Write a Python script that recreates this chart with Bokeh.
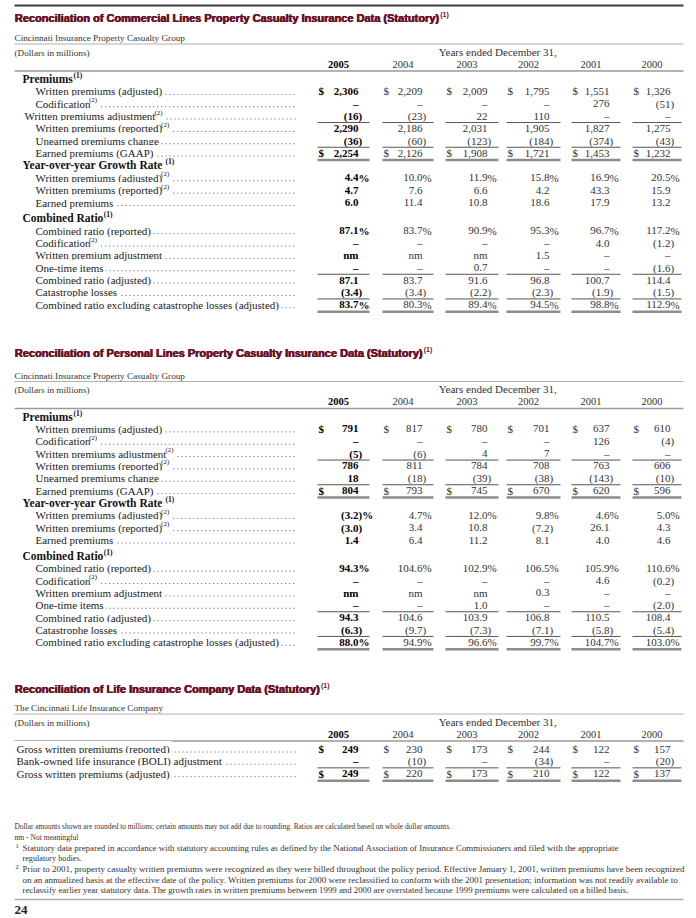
from bokeh.plotting import figure
from bokeh.models import Range1d
from bokeh.core.properties import value
from bokeh.embed import file_html
from bokeh.resources import INLINE

# ---------------- data ----------------
years = ["2005", "2004", "2003", "2002", "2001", "2000"]

titles = [
    "Reconciliation of Commercial Lines Property Casualty Insurance Data (Statutory)",
    "Reconciliation of Personal Lines Property Casualty Insurance Data (Statutory)",
    "Reconciliation of Life Insurance Company Data (Statutory)",
]
title_notes = ["(1)", "(1)", "(1)"]
subtitles = [
    "Cincinnati Insurance Property Casualty Group",
    "Cincinnati Insurance Property Casualty Group",
    "The Cincinnati Life Insurance Company",
]

pc_labels = [
    "Premiums", "Written premiums (adjusted)", "Codification",
    "Written premiums adjustment", "Written premiums (reported)",
    "Unearned premiums change", "Earned premiums (GAAP)",
    "Year-over-year Growth Rate", "Written premiums (adjusted)",
    "Written premiums (reported)", "Earned premiums",
    "Combined Ratio", "Combined ratio (reported)", "Codification",
    "Written premium adjustment", "One-time items", "Combined ratio (adjusted)",
    "Catastrophe losses", "Combined ratio excluding catastrophe losses (adjusted)",
]
pc_notes = ["(1)", "", "(2)", "(2)", "(2)", "", "", "(1)", "(2)", "(2)", "", "(1)", "", "(2)", "", "", "", "", ""]
com_kinds = ["h", "r", "r", "r0", "r", "r", "r", "h", "r", "r", "r", "h", "r", "r", "r", "r", "r", "r", "r"]
per_kinds = ["h", "r", "r", "r", "r", "r", "r", "h", "r", "r", "r", "h", "r", "r", "r", "r", "r", "r", "r"]
pc_rules = ["", "", "", "u", "", "u", "uu", "", "", "", "", "", "", "", "", "u", "", "u", "uu"]

com_2005 = ["", "$2,306", "\u2013", "(16)", "2,290", "(36)", "$2,254", "", "4.4%", "4.7", "6.0", "", "87.1%", "\u2013", "nm", "\u2013", "87.1", "(3.4)", "83.7%"]
com_2004 = ["", "$2,209", "\u2013", "(23)", "2,186", "(60)", "$2,126", "", "10.0%", "7.6", "11.4", "", "83.7%", "\u2013", "nm", "\u2013", "83.7", "(3.4)", "80.3%"]
com_2003 = ["", "$2,009", "\u2013", "22", "2,031", "(123)", "$1,908", "", "11.9%", "6.6", "10.8", "", "90.9%", "\u2013", "nm", "0.7", "91.6", "(2.2)", "89.4%"]
com_2002 = ["", "$1,795", "\u2013", "110", "1,905", "(184)", "$1,721", "", "15.8%", "4.2", "18.6", "", "95.3%", "\u2013", "1.5", "\u2013", "96.8", "(2.3)", "94.5%"]
com_2001 = ["", "$1,551", "276", "\u2013", "1,827", "(374)", "$1,453", "", "16.9%", "43.3", "17.9", "", "96.7%", "4.0", "\u2013", "\u2013", "100.7", "(1.9)", "98.8%"]
com_2000 = ["", "$1,326", "(51)", "\u2013", "1,275", "(43)", "$1,232", "", "20.5%", "15.9", "13.2", "", "117.2%", "(1.2)", "\u2013", "(1.6)", "114.4", "(1.5)", "112.9%"]

per_2005 = ["", "$791", "\u2013", "(5)", "786", "18", "$804", "", "(3.2)%", "(3.0)", "1.4", "", "94.3%", "\u2013", "nm", "\u2013", "94.3", "(6.3)", "88.0 %"]
per_2004 = ["", "$817", "\u2013", "(6)", "811", "(18)", "$793", "", "4.7%", "3.4", "6.4", "", "104.6%", "\u2013", "nm", "\u2013", "104.6", "(9.7)", "94.9%"]
per_2003 = ["", "$780", "\u2013", "4", "784", "(39)", "$745", "", "12.0%", "10.8", "11.2", "", "102.9%", "\u2013", "nm", "1.0", "103.9", "(7.3)", "96.6%"]
per_2002 = ["", "$701", "\u2013", "7", "708", "(38)", "$670", "", "9.8%", "(7.2)", "8.1", "", "106.5%", "\u2013", "0.3", "\u2013", "106.8", "(7.1)", "99.7%"]
per_2001 = ["", "$637", "126", "\u2013", "763", "(143)", "$620", "", "4.6%", "26.1", "4.0", "", "105.9%", "4.6", "\u2013", "\u2013", "110.5", "(5.8)", "104.7%"]
per_2000 = ["", "$610", "(4)", "\u2013", "606", "(10)", "$596", "", "5.0%", "4.3", "4.6", "", "110.6%", "(0.2)", "\u2013", "(2.0)", "108.4", "(5.4)", "103.0%"]

life_labels = ["Gross written premiums (reported)", "Bank-owned life insurance (BOLI) adjustment",
               "Gross written premiums (adjusted)"]
life_notes = ["", "", ""]
life_kinds = ["l", "l", "l"]
life_rules = ["", "u", "uu"]
life_2005 = ["$249", "\u2013", "$249"]
life_2004 = ["$230", "(10)", "$220"]
life_2003 = ["$173", "\u2013", "$173"]
life_2002 = ["$244", "(34)", "$210"]
life_2001 = ["$122", "\u2013", "$122"]
life_2000 = ["$157", "(20)", "$137"]

footnote_marks = ["", "", "1", "", "2", "", ""]
footnotes = [
    "Dollar amounts shown are rounded to millions; certain amounts may not add due to rounding. Ratios are calculated based on whole dollar amounts.",
    "nm - Not meaningful",
    "Statutory data prepared in accordance with statutory accounting rules as defined by the National Association of Insurance Commissioners and filed with the appropriate",
    "regulatory bodies.",
    "Prior to 2001, property casualty written premiums were recognized as they were billed throughout the policy period. Effective January 1, 2001,  written premiums have been recognized",
    "on an annualized basis at the effective date of the policy. Written premiums for 2000 were reclassified to conform with the 2001 presentation; information was not readily available to",
    "reclassify earlier year statutory data. The growth rates in written premiums between 1999 and 2000 are overstated because 1999 premiums were calculated on a billed basis.",
]
page_number = "24"

# ---------------- font metrics (Times / Arial compatible, per 1000 em) ----------------
TIMES = dict(zip("ABCDEFGHIJKLMNOPQRSTUVWXYZ",
                 [722, 667, 667, 722, 611, 556, 722, 722, 333, 389, 722, 611, 889, 722, 722, 556, 722, 667, 556, 611, 722, 722, 944, 722, 722, 611]))
TIMES.update(zip("abcdefghijklmnopqrstuvwxyz",
                 [444, 500, 444, 500, 444, 333, 500, 500, 278, 278, 500, 278, 778, 500, 500, 500, 500, 333, 389, 278, 500, 500, 722, 500, 500, 444]))
TIMES.update({" ": 250, "(": 333, ")": 333, "-": 333})
TIMESB = dict(TIMES)
TIMESB.update(zip("abcdefghijklmnopqrstuvwxyz",
                  [500, 556, 444, 556, 444, 333, 500, 556, 278, 333, 556, 278, 833, 556, 500, 556, 556, 444, 389, 333, 556, 500, 722, 500, 500, 444]))
TIMESB.update({"C": 722, "G": 778, "P": 611, "R": 722, "Y": 722})
ARIALB = dict(zip("abcdefghijklmnopqrstuvwxyz",
                  [556, 611, 556, 611, 556, 333, 611, 611, 278, 278, 556, 278, 889, 611, 611, 611, 611, 389, 556, 333, 611, 556, 778, 556, 556, 500]))
ARIALB.update({"R": 722, "C": 722, "L": 611, "P": 667, "I": 278, "D": 722, "S": 667, " ": 278, "(": 333, ")": 333})

def text_width(s, table, size):
    return sum(table.get(c, 500) for c in s) / 1000.0 * size

# ---------------- layout ----------------
W, H = 696, 918
p = figure(width=W, height=H, output_backend="svg", toolbar_location=None,
           x_range=Range1d(0, W), y_range=Range1d(H, 0),
           x_axis_location=None, y_axis_location=None, min_border=0)
p.xgrid.visible = False
p.ygrid.visible = False
p.outline_line_color = None
p.background_fill_color = "white"

SERIF = value("Liberation Serif")
SANS = value("Liberation Sans")
MAROON = "#6b1228"
LEFT, RIGHT = 14, 683
LEADER_END = 295
col_right = [358, 422, 487, 549, 609, 670]
col_dollar = [318, 383, 446, 507, 572, 633]
STEP = 12.35
TITLE_SIZE = 11.0
LABEL_SIZE = 11.0
HEAD_SIZE = 11.5
NOTE_SIZE = 7.0

sections = [
    dict(title_y=17, header_y=63.5, labels=pc_labels, notes=pc_notes, kinds=com_kinds, rules=pc_rules,
         cols=[com_2005, com_2004, com_2003, com_2002, com_2001, com_2000]),
    dict(title_y=352, header_y=401, labels=pc_labels, notes=pc_notes, kinds=per_kinds, rules=pc_rules,
         cols=[per_2005, per_2004, per_2003, per_2002, per_2001, per_2000]),
    dict(title_y=688, header_y=733.5, labels=life_labels, notes=life_notes, kinds=life_kinds, rules=life_rules,
         cols=[life_2005, life_2004, life_2003, life_2002, life_2001, life_2000]),
]

p.segment([LEFT], [5], [RIGHT], [5], line_color="#3a3a3a", line_width=2)

def split_value(v):
    dollar = v.startswith("$")
    if dollar:
        v = v[1:]
    i = len(v)
    while i > 0 and v[i - 1] in ")% ":
        i -= 1
    return dollar, v[:i], v[i:]

for si, s in enumerate(sections):
    hy = s["header_y"]
    ty = s["title_y"]
    for off in (0, 0.35, 0.7):
        p.text([LEFT + off], [ty], text=[titles[si]], text_font=SANS,
               text_font_style="bold", text_font_size=f"{TITLE_SIZE}px", text_color=MAROON,
               text_baseline="middle")
    tw = text_width(titles[si], ARIALB, TITLE_SIZE)
    p.text([LEFT + tw + 1.5], [ty - 3], text=[title_notes[si]], text_font=SANS,
           text_font_style="bold", text_font_size="7px", text_color=MAROON, text_baseline="middle")

    p.text([LEFT], [hy - 26], text=[subtitles[si]], text_font=SERIF,
           text_font_size="9.2px", text_color="#333333", text_baseline="middle")
    p.segment([LEFT], [hy - 20], [RIGHT], [hy - 20], line_color="#b0b0b0", line_width=1)
    p.text([LEFT], [hy - 11.5], text=["(Dollars in millions)"], text_font=SERIF,
           text_font_size="9.2px", text_color="#333333", text_baseline="middle")
    centers = [(a + b) / 2 for a, b in zip(col_dollar, col_right)]
    p.text([(centers[2] + centers[3]) / 2], [hy - 12.5], text=["Years ended December 31,"],
           text_font=SERIF, text_font_size="11px", text_align="center",
           text_baseline="middle", text_color="#333333")
    p.text(centers[:1], [hy], text=years[:1], text_font=SERIF, text_font_style="bold",
           text_font_size="10.5px", text_align="center", text_baseline="middle")
    p.text(centers[1:], [hy] * 5, text=years[1:], text_font=SERIF,
           text_font_size="10.5px", text_align="center", text_baseline="middle",
           text_color="#333333")
    p.segment([LEFT], [hy + 7], [RIGHT], [hy + 7], line_color="#9a9a9a", line_width=1.5)

    ys = []
    y = hy + 15
    for i, k in enumerate(s["kinds"]):
        if i > 0:
            y += STEP
            if k == "h" and s["labels"][i].startswith("Combined"):
                y += 3.5
        ys.append(y)

    lx, ly, lt, lead0 = [], [], [], []
    hx, hyy, ht = [], [], []
    nx, ny, nt, bx, by, bt = [], [], [], [], [], []
    for i, k in enumerate(s["kinds"]):
        lab = s["labels"][i]
        note = s["notes"][i]
        if k == "h":
            hx.append(22); hyy.append(ys[i]); ht.append(lab)
            if note:
                bx.append(22 + text_width(lab, TIMESB, HEAD_SIZE) + 0.5); by.append(ys[i] - 3.5); bt.append(note)
        else:
            x0 = {"r": 33, "r0": 22, "l": LEFT}[k]
            lx.append(x0); ly.append(ys[i]); lt.append(lab)
            if note:
                n0 = x0 + text_width(lab, TIMES, LABEL_SIZE) + 0.5
                nx.append(n0); ny.append(ys[i] - 3.5); nt.append(note)
                lead0.append(n0 + text_width(note, TIMES, NOTE_SIZE) + 4)
            else:
                lead0.append(x0)
    p.segment(lead0, [v + 3 for v in ly], [LEADER_END] * len(lx), [v + 3 for v in ly],
              line_color="#555555", line_width=1, line_dash="1 3")
    # labels (white background hides the leader dots under the text)
    p.text(lx, ly, text=lt, text_font=SERIF, text_font_size=f"{LABEL_SIZE}px", text_color="#222222",
           text_baseline="middle", background_fill_color="white", padding=2)
    if nx:
        p.text(nx, ny, text=nt, text_font=SERIF, text_font_size=f"{NOTE_SIZE}px", text_color="#222222",
               text_baseline="middle")
    if hx:
        p.text(hx, hyy, text=ht, text_font=SERIF, text_font_style="bold",
               text_font_size=f"{HEAD_SIZE}px", text_color="#111111", text_baseline="middle")
    if bx:
        p.text(bx, by, text=bt, text_font=SERIF, text_font_style="bold",
               text_font_size="7.5px", text_color="#111111", text_baseline="middle")

    for j, col in enumerate(s["cols"]):
        style = "bold" if j == 0 else "normal"
        color = "#000000" if j == 0 else "#333333"
        dx, dy, cx, cy, ct, sx, sy, st = [], [], [], [], [], [], [], []
        for i, v in enumerate(col):
            if not v:
                continue
            d, core, suf = split_value(v)
            if d:
                dx.append(col_dollar[j]); dy.append(ys[i])
            cx.append(col_right[j]); cy.append(ys[i]); ct.append(core)
            if suf:
                sx.append(col_right[j]); sy.append(ys[i]); st.append(suf)
        if dx:
            p.text(dx, dy, text=["$"] * len(dx), text_font=SERIF, text_font_style=style,
                   text_font_size="11px", text_color=color, text_baseline="middle")
        p.text(cx, cy, text=ct, text_font=SERIF, text_font_style=style, text_font_size="11px",
               text_color=color, text_baseline="middle", text_align="right")
        if sx:
            p.text(sx, sy, text=st, text_font=SERIF, text_font_style=style,
                   text_font_size="11px", text_color=color, text_baseline="middle")
        ux0, uy, dx0, ddy = [], [], [], []
        for i, r in enumerate(s["rules"]):
            if r == "u":
                ux0.append(col_dollar[j] - 1); uy.append(ys[i] + 6.5)
            elif r == "uu":
                dx0.append(col_dollar[j] - 1); ddy.append(ys[i] + 7)
        if ux0:
            p.segment(ux0, uy, [col_right[j] + 11] * len(ux0), uy, line_color="#555555", line_width=1)
        if dx0:
            p.segment(dx0, ddy, [col_right[j] + 11] * len(dx0), ddy, line_color="#8c8c8c", line_width=2.5)

# footnotes
fy0, fstep = 826, 10.6
fsizes = [7.4, 7.6, 8.9, 8.2, 9.0, 9.0, 8.8]
for i, txt in enumerate(footnotes):
    fx = LEFT if i < 2 else 22
    p.text([fx], [fy0 + i * fstep], text=[txt], text_font=SERIF, text_font_size=f"{fsizes[i]}px",
           text_color="#333333", text_baseline="middle")
mk = [(i, m) for i, m in enumerate(footnote_marks) if m]
p.text([LEFT + 1] * len(mk), [fy0 + i * fstep - 2 for i, _ in mk], text=[m for _, m in mk],
       text_font=SERIF, text_font_size="6.5px", text_color="#333333", text_baseline="middle")
p.segment([LEFT], [899], [RIGHT], [899], line_color="#aaaaaa", line_width=1.5)
p.text([LEFT], [909], text=[page_number], text_font=value("Liberation Sans Narrow"),
       text_font_style="bold", text_font_size="13px", text_color="#222222", text_baseline="middle")

open("out.html", "w").write(file_html(p, INLINE))
